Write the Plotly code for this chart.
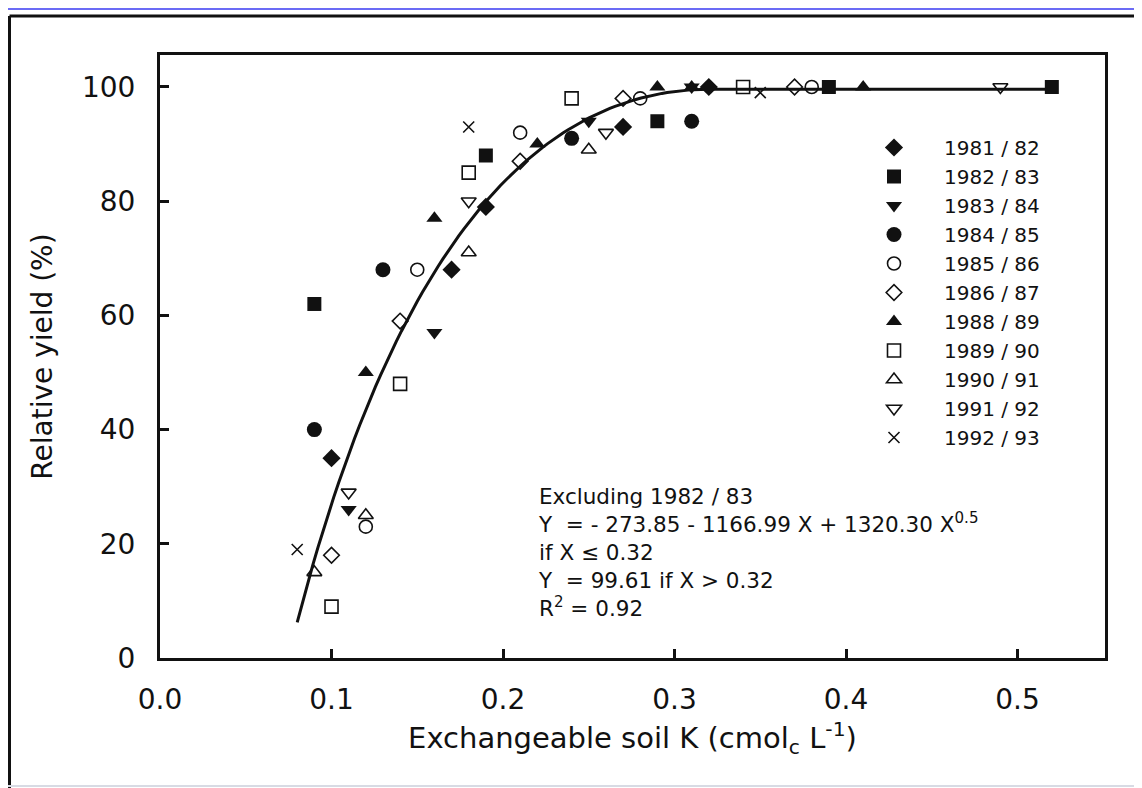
import numpy as np
import plotly.graph_objects as go

# ---- data ----
seasons = ["1981 / 82", "1982 / 83", "1983 / 84", "1984 / 85", "1985 / 86",
           "1986 / 87", "1988 / 89", "1989 / 90", "1990 / 91", "1991 / 92", "1992 / 93"]

x_8182 = [0.10, 0.17, 0.19, 0.27, 0.32]
y_8182 = [35, 68, 79, 93, 100]
x_8283 = [0.09, 0.19, 0.29, 0.39, 0.52]
y_8283 = [62, 88, 94, 100, 100]
x_8384 = [0.11, 0.16, 0.25, 0.31]
y_8384 = [26, 57, 94, 100]
x_8485 = [0.09, 0.13, 0.24, 0.31]
y_8485 = [40, 68, 91, 94]
x_8586 = [0.12, 0.15, 0.21, 0.28, 0.38]
y_8586 = [23, 68, 92, 98, 100]
x_8687 = [0.10, 0.14, 0.21, 0.27, 0.37]
y_8687 = [18, 59, 87, 98, 100]
x_8889 = [0.12, 0.16, 0.22, 0.29, 0.31, 0.41]
y_8889 = [50, 77, 90, 100, 100, 100]
x_8990 = [0.10, 0.14, 0.18, 0.24, 0.34]
y_8990 = [9, 48, 85, 98, 100]
x_9091 = [0.09, 0.12, 0.18, 0.25]
y_9091 = [15, 25, 71, 89]
x_9192 = [0.11, 0.18, 0.26, 0.49]
y_9192 = [29, 80, 92, 100]
x_9293 = [0.08, 0.18, 0.35]
y_9293 = [19, 93, 99]

# fitted model printed on the chart
coef_a, coef_b, coef_c = -273.85, -1166.99, 1320.30
plateau, join_x = 99.61, 0.32
fit_x_start, fit_x_end = 0.08, 0.52

x_ticks = [0.0, 0.1, 0.2, 0.3, 0.4, 0.5]
y_ticks = [0, 20, 40, 60, 80, 100]

series_x = [x_8182, x_8283, x_8384, x_8485, x_8586, x_8687, x_8889, x_8990, x_9091, x_9192, x_9293]
series_y = [y_8182, y_8283, y_8384, y_8485, y_8586, y_8687, y_8889, y_8990, y_9091, y_9192, y_9293]

symbols = ["diamond", "square", "triangle-down", "circle", "circle-open", "diamond-open",
           "triangle-up", "square-open", "triangle-up-open", "triangle-down-open", "x-thin-open"]
sizes = [14, 14, 14, 15, 13, 12, 14, 13, 13, 13, 11]

FONT = "DejaVu Sans"
INK = "#111111"

fig = go.Figure()

# fitted curve
xs = np.linspace(fit_x_start, join_x, 80)
ys = coef_a + coef_b * xs + coef_c * np.sqrt(xs)
xs = np.concatenate([xs, [fit_x_end]])
ys = np.concatenate([ys, [plateau]])
fig.add_trace(go.Scatter(x=xs, y=ys, mode="lines", line=dict(color=INK, width=3),
                         showlegend=False, hoverinfo="skip"))

for name, xv, yv, sym, sz in zip(seasons, series_x, series_y, symbols, sizes):
    is_open = "open" in sym
    fig.add_trace(go.Scatter(
        x=xv, y=yv, mode="markers", name=name,
        marker=dict(symbol=sym, size=sz, color=INK,
                    line=dict(color=INK, width=1.6 if is_open else 0)),
    ))

# page body adds an 8px offset; work in screen pixels and subtract it
OFF = 8
W, H = 1142 - OFF, 788 - OFF
L, R, T, B = 160 - OFF, 1105 - OFF, 55 - OFF, 658 - OFF
def px(x):
    return (x - OFF - L) / (R - L)
def py(y):
    return (B - (y - OFF)) / (B - T)

fig.update_layout(
    width=W, height=H,
    margin=dict(l=L, r=W - R, t=T, b=H - B),
    paper_bgcolor="white", plot_bgcolor="white",
    font=dict(family=FONT, color=INK),
    legend=dict(x=px(844), y=py(128), xanchor="left", yanchor="top",
                font=dict(size=20, family=FONT, color=INK),
                bgcolor="rgba(0,0,0,0)", itemwidth=90, tracegroupgap=0),
    xaxis=dict(range=[0, 0.551], tickvals=x_ticks, tickformat=".1f",
               showgrid=False, zeroline=False, showline=True, linecolor=INK, linewidth=3,
               mirror=True, ticks="inside", ticklen=9, tickwidth=2.5, tickcolor=INK,
               tickfont=dict(size=28, family=FONT, color=INK), ticklabelstandoff=14,
               title=dict(text="Exchangeable soil K (cmol<sub>c</sub> L<sup>-1</sup>)",
                          font=dict(size=29, family=FONT, color=INK), standoff=14)),
    yaxis=dict(range=[0, 105.6], tickvals=y_ticks,
               showgrid=False, zeroline=False, showline=True, linecolor=INK, linewidth=3,
               mirror=True, ticks="inside", ticklen=9, tickwidth=2.5, tickcolor=INK,
               tickfont=dict(size=28, family=FONT, color=INK), ticklabelstandoff=16,
               title=dict(text="Relative yield (%)",
                          font=dict(size=28, family=FONT, color=INK), standoff=22)),
    shapes=[
        dict(type="rect", xref="paper", yref="paper", x0=px(OFF), x1=px(1142 + OFF),
             y0=py(OFF), y1=py(OFF + 2), fillcolor="#6b6bf5", line=dict(width=0), layer="above"),
        dict(type="line", xref="paper", yref="paper", x0=px(OFF + 1.5), x1=px(1142 + OFF),
             y0=py(16), y1=py(16), line=dict(color=INK, width=3)),
        dict(type="line", xref="paper", yref="paper", x0=px(OFF + 1.5), x1=px(OFF + 1.5),
             y0=py(16), y1=py(790), line=dict(color=INK, width=3)),
        dict(type="line", xref="paper", yref="paper", x0=px(OFF), x1=px(1142 + OFF),
             y0=py(786), y1=py(786), line=dict(color="#d8dbe4", width=2)),
    ],
    annotations=[
        dict(xref="paper", yref="paper", x=px(536), y=py(482), xanchor="left", yanchor="top",
             align="left", showarrow=False,
             font=dict(size=21.5, family=FONT, color=INK),
             text=("Excluding 1982 / 83<br>"
                   "Y \u00a0= - 273.85 - 1166.99 X + 1320.30 X<sup>0.5</sup><br>"
                   "if X \u2264 0.32<br>"
                   "Y \u00a0= 99.61 if X > 0.32<br>"
                   "R<sup>2</sup> = 0.92")),
    ],
)

fig.write_html("out.html")
